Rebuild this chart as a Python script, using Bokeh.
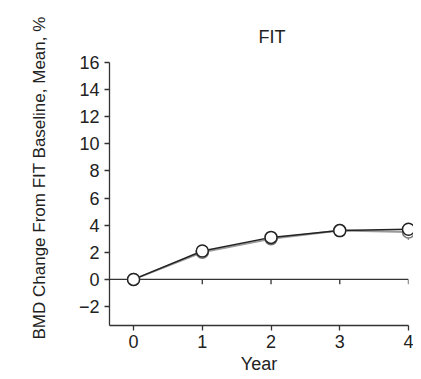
import math
from bokeh.plotting import figure
from bokeh.models import Range1d, FixedTicker, Span, Title
from bokeh.embed import file_html
from bokeh.resources import INLINE

# Data
years = [0, 1, 2, 3, 4]
bmd_a = [0.0, 2.1, 3.1, 3.6, 3.7]   # darker series
bmd_b = [0.0, 2.0, 3.0, 3.6, 3.5]   # lighter series
err_year = [4]
err_low = [2.9]
err_high = [3.6]
y_ticks = [-2, 0, 2, 4, 6, 8, 10, 12, 14, 16]
x_ticks = [0, 1, 2, 3, 4]

FONT = "Liberation Sans"

p = figure(width=413, height=379, output_backend="svg", toolbar_location=None,
           x_range=Range1d(-0.35, 4.0), y_range=Range1d(-3.4, 16),
           min_border_left=108, min_border_right=5, min_border_top=62, min_border_bottom=54,
           title="FIT")
p.title.align = "left"
p.title.offset = 149
p.title.text_font = FONT
p.title.text_font_size = "18px"
p.title.text_font_style = "normal"
p.title.text_color = "#222222"
p.title.standoff = 32

p.outline_line_color = None
p.xgrid.visible = False
p.ygrid.visible = False
p.background_fill_color = "white"
p.border_fill_color = "white"

for ax in (p.xaxis[0], p.yaxis[0]):
    ax.axis_line_color = "#333333"
    ax.axis_line_width = 1.3
    ax.major_tick_line_color = "#333333"
    ax.major_tick_line_width = 1.3
    ax.major_tick_in = 0
    ax.major_tick_out = 5
    ax.minor_tick_line_color = None
    ax.major_label_text_font = FONT
    ax.major_label_text_font_size = "18px"
    ax.major_label_text_color = "#222222"

p.yaxis.ticker = FixedTicker(ticks=y_ticks)
p.xaxis.ticker = FixedTicker(ticks=x_ticks)
p.yaxis.major_label_overrides = {t: ("\u22122" if t < 0 else str(t)) for t in y_ticks}
p.yaxis.major_label_standoff = 5
p.xaxis.major_label_standoff = 4

p.xaxis.axis_label = "Year"
p.xaxis.axis_label_text_font = FONT
p.xaxis.axis_label_text_font_size = "18px"
p.xaxis.axis_label_text_font_style = "normal"
p.xaxis.axis_label_text_color = "#222222"
p.xaxis.axis_label_standoff = 3

# zero reference line with tick marks
p.add_layout(Span(location=0, dimension="width", line_color="#333333", line_width=1.3))
p.segment(x0=x_ticks[1:], y0=[0] * 4, x1=x_ticks[1:], y1=[-0.35] * 4,
          line_color="#333333", line_width=1.3)

# error bar
p.segment(x0=err_year, y0=err_low, x1=err_year, y1=err_high, line_color="#222222", line_width=1.3)

# series
p.line(years, bmd_b, line_color="#9a9a9a", line_width=2)
p.line(years, bmd_a, line_color="#222222", line_width=1.5)
r1 = p.scatter(years, bmd_b, size=12, marker="circle", fill_color="white",
               line_color="#777777", line_width=1.5)
r2 = p.scatter(years, bmd_a, size=12, marker="circle", fill_color="white",
               line_color="#222222", line_width=1.5)
r1.level = "overlay"
r2.level = "overlay"

ytitle = Title(text="BMD Change From FIT Baseline, Mean, %", align="left", offset=-14,
               text_font=FONT, text_font_size="17px", text_font_style="normal",
               text_color="#222222", standoff=54)
p.add_layout(ytitle, "left")

open("out.html", "w").write(file_html(p, INLINE))
